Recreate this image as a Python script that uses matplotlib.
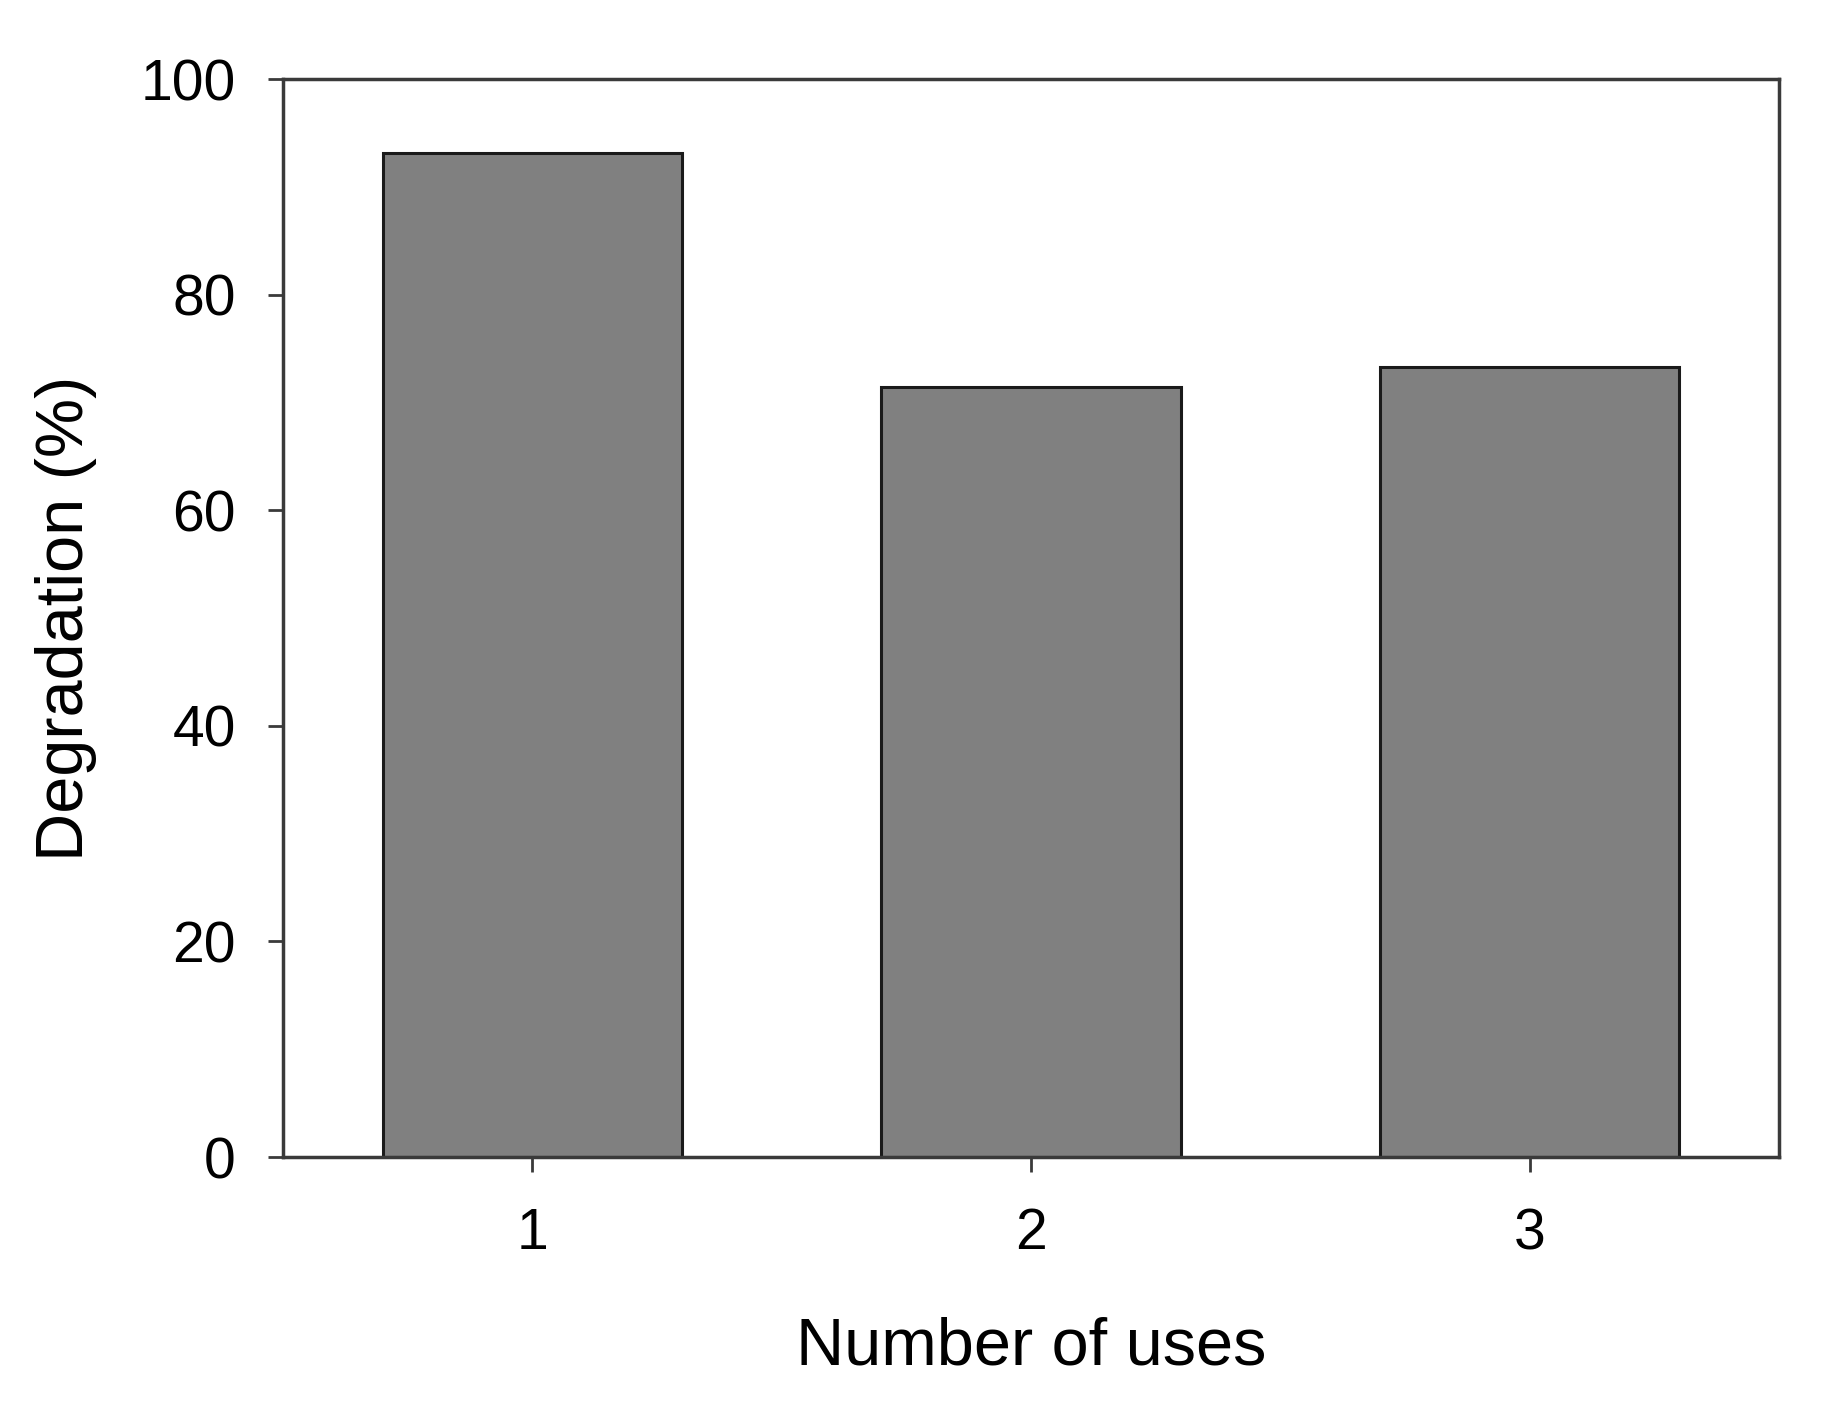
import numpy as np
import matplotlib
matplotlib.use("Agg")
import matplotlib.pyplot as plt

plt.rcParams['font.family'] = ['Liberation Sans', 'DejaVu Sans']

# Data
uses = [1, 2, 3]
degradation = [93.1, 71.4, 73.3]
yticks = [0, 20, 40, 60, 80, 100]

fig = plt.figure(figsize=(18.33, 14.11), dpi=100)
ax = fig.add_axes([0.1544, 0.18, 0.8161, 0.764])

ax.bar(uses, degradation, width=0.6, color='#808080',
       edgecolor='#1a1a1a', linewidth=2.2, zorder=2)

ax.set_xlim(0.5, 3.5)
ax.set_ylim(0, 100)
ax.set_xticks(uses)
ax.set_yticks(yticks)

for side in ['top', 'right', 'left', 'bottom']:
    ax.spines[side].set_linewidth(2.5)
    ax.spines[side].set_color('#3a3a3a')

ax.tick_params(axis='both', direction='out', length=11, width=2.0,
               color='#3a3a3a', labelsize=41)
ax.tick_params(axis='y', pad=23)
ax.tick_params(axis='x', pad=25)

ax.set_xlabel('Number of uses', fontsize=48, labelpad=40)
ax.set_ylabel('Degradation (%)', fontsize=48, labelpad=31)

fig.savefig('out.png', dpi=100)
